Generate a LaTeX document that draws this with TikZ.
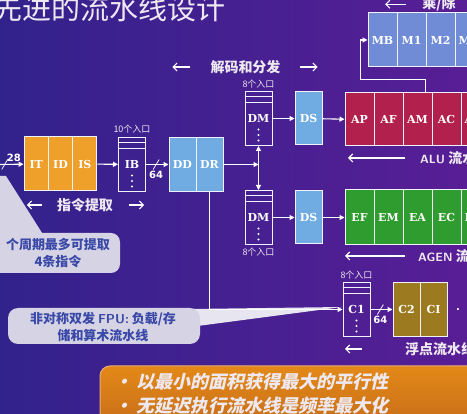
\documentclass[tikz,border=0pt]{standalone}
\usepackage{fontspec}
\setmainfont{DejaVu Sans}
\newfontfamily\cjk{Noto Sans CJK SC}
\newfontfamily\cjkslant[FakeSlant=0.22]{Noto Sans CJK SC}
\newfontfamily\slab{DejaVu Serif}
\usetikzlibrary{arrows.meta,positioning}
\definecolor{bgblue}{RGB}{50,34,140}
\definecolor{bgpurple}{RGB}{88,30,150}
\definecolor{fetchorange}{RGB}{238,160,42}
\definecolor{decodeblue}{RGB}{112,172,226}
\definecolor{mulblue}{RGB}{112,140,214}
\definecolor{alured}{RGB}{178,32,78}
\definecolor{agengreen}{RGB}{46,156,46}
\definecolor{fpolive}{RGB}{156,122,32}
\definecolor{notegray}{RGB}{214,212,228}
\definecolor{notetext}{RGB}{58,72,168}
\definecolor{bandorange}{RGB}{222,116,28}
\definecolor{paletext}{RGB}{238,232,240}
\begin{document}
\begin{tikzpicture}
[x=1pt,y=-1pt,
  cell/.style={draw=white!90!mulblue,line width=1pt,minimum width=27pt,
    minimum height=54pt,inner sep=0pt,text=white,
    font=\slab\bfseries\fontsize{11}{12}\selectfont},%
  fetchcell/.style={cell,fill=fetchorange,minimum width=24.3pt},%
  decodecell/.style={cell,fill=decodeblue},%
  mulcell/.style={cell,fill=mulblue,minimum width=29pt},%
  alucell/.style={cell,fill=alured,minimum width=29pt,minimum height=53pt},%
  agencell/.style={cell,fill=agengreen,minimum width=29pt,minimum height=55pt},%
  fpcell/.style={cell,fill=fpolive},%
  stack/.style={cell},%
  cutcell/.style={text width=22pt,align=left},%
  divider/.style={draw=white!90!mulblue,line width=0.8pt},%
  flow/.style={draw=white!92,line width=1.1pt,-{Triangle[length=5pt,width=5pt]}},%
  span/.style={draw=white!92,line width=1.1pt,-{Straight Barb[length=4pt,width=8pt]}},%
  tag/.style={inner sep=0pt,text=paletext,font=\cjk\bfseries\fontsize{14}{14}\selectfont},%
  entries/.style={inner sep=0pt,text=paletext,font=\cjk\fontsize{9}{9}\selectfont},%
  bustext/.style={inner sep=0pt,text=white,font=\bfseries\fontsize{10}{10}\selectfont},%
  notetxt/.style={align=center,text=notetext,font=\cjk\bfseries\fontsize{13}{17}\selectfont},%
  bullet/.style={inner sep=0pt,text=paletext,font=\cjkslant\bfseries\fontsize{18}{18}\selectfont}]
\useasboundingbox (0,0) rectangle (467,414);
%% background
\shade[left color=bgblue,right color=bgpurple] (0,0) rectangle (467,414);
\node[anchor=base west,inner sep=0pt,text=paletext,
  font=\cjk\fontsize{29}{29}\selectfont] (title) at (-7,20) {先进的流水线设计};
\shade[top color=bandorange!85!yellow,bottom color=bandorange!85!black,
  draw=bandorange!60!white,line width=1pt,rounded corners=10pt]
  (100,366) rectangle (500,450);
%% callouts
\fill[notegray] (-2,176) -- (6,176) -- (44,236) -- (0,236) -- cycle;
\fill[notegray,rounded corners=9pt] (-20,233) rectangle (120,273);
\node[notetxt] (fetchnote) at (58,253) {个周期最多可提取\\4条指令};
\fill[notegray!60!white] (190,309) -- (342,307) -- (190,327) -- cycle;
\fill[notegray,rounded corners=10pt] (8,308) rectangle (200,344);
\node[notetxt] (fpnote) at (103,327)
  {非对称双发 {\sffamily\bfseries FPU:} 负载/存\\储和算术流水线};
%% pipeline stages
\foreach \nodename/\lab/\x in {it/IT/36.2, id/ID/60.5, is/IS/84.8} {
  \node (\nodename) at (\x,164) [fetchcell] {\lab};
}
\foreach \nodename/\lab/\x in {dd/DD/182.5, dr/DR/209.5} {
  \node (\nodename) at (\x,164.5) [decodecell] {\lab};
}
\foreach \nodename/\y in {dsA/118.5, dsB/217.5} {
  \node (\nodename) at (308.5,\y) [decodecell,minimum height=53pt] {DS};
}
\foreach \nodename/\lab/\x in {mb/MB/382.5, mone/M1/411.5, mtwo/M2/440.5} {
  \node (\nodename) at (\x,40) [mulcell] {\lab};
}
\node (mthree) at (469.5,40) [mulcell,cutcell] {M};
\foreach \nodename/\lab/\x in {ap/AP/359.5, af/AF/388.5, am/AM/417.5, ac/AC/446.5} {
  \node (\nodename) at (\x,119.5) [alucell] {\lab};
}
\node (alast) at (475.5,119.5) [alucell,cutcell] {A};
\foreach \nodename/\lab/\x in {ef/EF/359.5, em/EM/388.5, ea/EA/417.5, ec/EC/446.5} {
  \node (\nodename) at (\x,217.5) [agencell] {\lab};
}
\node (elast) at (475.5,217.5) [agencell,cutcell] {E};
\foreach \nodename/\lab/\x in {ctwo/C2/406.5, ci/CI/433.5} {
  \node (\nodename) at (\x,309.5) [fpcell] {\lab};
}
%% queues
\foreach \nodename/\lab/\x/\y in {ib/IB/132/164.5, dmA/DM/258.5/118.5,
  dmB/DM/258.5/217.5, cA/C1/356.5/309.5} {
  \node (\nodename) at (\x,\y) [stack] {\lab};
  \draw[divider] ([yshift=-5pt]\nodename.north west) -- ([yshift=-5pt]\nodename.north east);
  \draw[divider] ([yshift=-11pt]\nodename.north west) -- ([yshift=-11pt]\nodename.north east);
  \foreach \d in {11,16.5,22}
    \fill[white] ([yshift=-\d pt]\nodename.center) circle (1.2pt);
}
\node[entries,above=4pt of ib] {10个入口};
\node[entries,above=3pt of dmA] {8个入口};
\node[entries,below=3pt of dmB] {8个入口};
\node[entries,above=3pt of cA] {8个入口};
\node (fpdots) at (458,309.5) [bustext] {.};
%% edges or lines
\coordinate (fetchin) at (0,164.5);
\draw[flow] (fetchin) -- node[coordinate,pos=0.2] (busA) {} (it);
\draw[divider] ([shift={(-3,5)}]busA) -- ([shift={(3,-5)}]busA);
\node[bustext,above right=3pt and 2pt of busA] {28};
\draw[flow] (is) -- (ib);
\draw[flow] (ib) -- node[coordinate,pos=0.45] (busB) {} (dd);
\draw[divider] ([shift={(-3,5)}]busB) -- ([shift={(3,-5)}]busB);
\node[bustext,below=6pt of busB] {64};
\draw[flow] (dr.east) -- (dr.east -| dmA.south);
\draw[flow,{Triangle[length=5pt,width=5pt]}-{Triangle[length=5pt,width=5pt]}] (dmA) -- (dmB);
\path
\foreach \startnode/\endnode in {dmA/dsA, dsA/ap, dmB/dsB, dsB/ef} {
  (\startnode) edge[flow] (\endnode)
};
\draw[flow] ([xshift=8pt]am.north) -- ++(0,-13) -| ([xshift=-7pt]mb.west) -- (mb.west);
\draw[flow] (dr.south) |- (cA.west);
\draw[flow] (cA) -- node[coordinate,pos=0.45] (busC) {} (ctwo);
\draw[divider] ([shift={(-3,5)}]busC) -- ([shift={(3,-5)}]busC);
\node[bustext,below=6pt of busC] {64};
%% stage labels
\node[tag] (fetchtag) at (85,205) {指令提取};
\draw[span] ([xshift=-15pt]fetchtag.west) -- ([xshift=-30pt]fetchtag.west);
\draw[span] ([xshift=16pt]fetchtag.east) -- ([xshift=31pt]fetchtag.east);
\node[tag] (decodetag) at (245.5,67) {解码和分发};
\draw[span] ([xshift=-20pt]decodetag.west) -- ([xshift=-38pt]decodetag.west);
\draw[span] ([xshift=19pt]decodetag.east) -- ([xshift=37pt]decodetag.east);
\node[tag,anchor=base] (multag) at (439,9) {乘/除};
\draw[span] ([xshift=-16pt]multag.west) -- ([xshift=-37pt]multag.west);
\node[tag,anchor=west] (alutag) at (420,158) {{\sffamily\fontsize{12}{12}\selectfont ALU} 流水线};
\draw[span] ([xshift=-15pt]alutag.west) -- ([xshift=-72pt]alutag.west);
\node[tag,anchor=west] (agentag) at (418,256) {{\sffamily\fontsize{12}{12}\selectfont AGEN} 流水线};
\draw[span] ([xshift=-13pt]agentag.west) -- ([xshift=-73pt]agentag.west);
\node[tag,anchor=west] (fptag) at (405,349) {浮点流水线};
\draw[span] ([xshift=-43pt]fptag.west) -- ([xshift=-60pt]fptag.west);
%% key points
\node[bullet,anchor=west] (pointA) at (114,382) {• 以最小的面积获得最大的平行性};
\node[bullet,anchor=west] (pointB) at (114,406) {• 无延迟执行流水线是频率最大化};
\end{tikzpicture}
\end{document}
